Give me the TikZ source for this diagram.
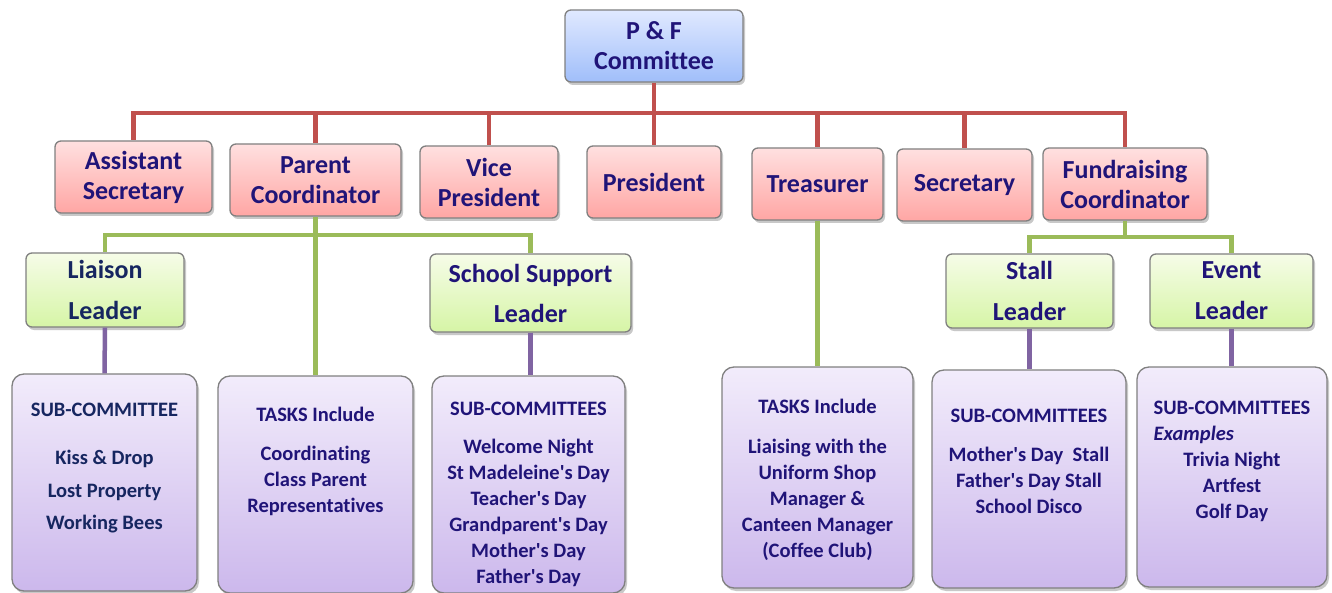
\documentclass[tikz,border=0pt]{standalone}
\usepackage{fontspec}
\usepackage{calc}
\setmainfont{Carlito}[Ligatures={NoCommon,TeXOff}]
\usetikzlibrary{positioning}
\usetikzlibrary{shadows}

\definecolor{navy}{RGB}{32,20,120}
\definecolor{slatenavy}{RGB}{22,38,96}
\definecolor{linered}{RGB}{192,80,77}
\definecolor{linegreen}{RGB}{155,187,89}
\definecolor{linepurple}{RGB}{128,100,162}
\definecolor{boxrim}{RGB}{128,128,128}

\tikzset{
  box/.style={draw=boxrim, line width=1.3pt, rounded corners=6pt, inner sep=0pt,
    align=center, text=navy, font=\fontsize{26}{30}\selectfont\bfseries,
    drop shadow={shadow xshift=2pt, shadow yshift=-3pt, opacity=0.3, fill=black!70}},
  bluebox/.style={box, top color={rgb,255:red,224;green,233;blue,255}, bottom color={rgb,255:red,160;green,190;blue,250}},
  redbox/.style={box, top color={rgb,255:red,255;green,224;blue,224}, bottom color={rgb,255:red,255;green,166;blue,164}},
  greenbox/.style={box, top color={rgb,255:red,246;green,252;blue,232}, bottom color={rgb,255:red,214;green,245;blue,166}},
  subbox/.style={box, rounded corners=12pt, top color={rgb,255:red,242;green,236;blue,251}, bottom color={rgb,255:red,204;green,184;blue,236}},
  subtext/.style={anchor=north, inner sep=0pt, align=center, text=navy, font=\fontsize{20.5}{26}\selectfont\bfseries},
  redline/.style={draw=linered, line width=4.5pt},
  greenline/.style={draw=linegreen, line width=4.5pt},
  purpleline/.style={draw=linepurple, line width=4.5pt}
}

\begin{document}
\begin{tikzpicture}[x=1pt, y=-1pt]
  \useasboundingbox [fill=white] (0, 0) rectangle (1332, 593);

  % committee and officers
  \node [bluebox, minimum width=178, minimum height=72] (pf) at (654, 46) {P \& F\\Committee};

  \node [redbox, minimum width=157, minimum height=72] (asec) at (133.5, 177) {Assistant\\Secretary};
  \node [redbox, minimum width=171, minimum height=72] (parc) at (315.5, 180) {Parent\\Coordinator};
  \node [redbox, minimum width=138, minimum height=72] (vpres) at (489, 182) {Vice\\President};
  \node [redbox, minimum width=134, minimum height=72] (pres) at (654, 182) {President};
  \node [redbox, minimum width=131, minimum height=72] (treas) at (817.5, 184) {Treasurer};
  \node [redbox, minimum width=135, minimum height=72] (secr) at (964.5, 185) {Secretary};
  \node [redbox, minimum width=164, minimum height=72] (fund) at (1125, 184) {Fundraising\\Coordinator};

  % leaders
  \node [greenbox, text=slatenavy, minimum width=158, minimum height=74] (liais) at (105, 290) {Liaison\\[11pt]Leader};
  \node [greenbox, minimum width=201, minimum height=78] (ssup) at (530.5, 293) {School Support\\[10pt]Leader};
  \node [greenbox, minimum width=167, minimum height=74] (stall) at (1029.5, 291) {Stall\\[11pt]Leader};
  \node [greenbox, minimum width=163, minimum height=74] (event) at (1231.5, 291) {Event\\[11pt]Leader};

  % sub-committees and tasks
  \node [subbox, minimum width=185, minimum height=217] (sub1) at (104.5, 482.5) {};
  \node [subbox, minimum width=195, minimum height=217] (task1) at (315.5, 484.5) {};
  \node [subbox, minimum width=193, minimum height=217] (sub2) at (528.5, 484.5) {};
  \node [subbox, minimum width=191, minimum height=221] (task2) at (817.5, 477.5) {};
  \node [subbox, minimum width=194, minimum height=218] (sub3) at (1029, 479) {};
  \node [subbox, minimum width=190, minimum height=220] (sub4) at (1232, 477) {};

  \node [subtext, text=slatenavy] (sub1txt) at (104.5, 402.5) {SUB-COMMITTEE\\[22pt]Kiss \& Drop\\[7pt]Lost Property\\[6pt]Working Bees};
  \node [subtext] (task1txt) at (315.5, 407) {TASKS Include\\[13pt]Coordinating\\Class Parent\\Representatives};
  \node [subtext] (sub2txt) at (528.5, 401.5) {SUB-COMMITTEES\\[12pt]Welcome Night\\St Madeleine's Day\\Teacher's Day\\Grandparent's Day\\Mother's Day\\Father's Day};
  \node [subtext] (task2txt) at (817.5, 399) {TASKS Include\\[14pt]Liaising with the\\Uniform Shop\\Manager \&\\Canteen Manager\\(Coffee Club)};
  \node [subtext] (sub3txt) at (1029, 408.5) {SUB-COMMITTEES\\[13pt]Mother's Day\ \ Stall\\Father's Day Stall\\School Disco};
  \node [subtext] (sub4txt) at (1232, 400.5) {SUB-COMMITTEES\\\makebox[\widthof{SUB-COMMITTEES}][l]{\itshape Examples}\\Trivia Night\\Artfest\\Golf Day};

  % red bus
  \coordinate (rbus) at (654, 113);
  \draw [redline] (pf.south) -- (pres.north);
  \foreach \n in {asec, parc, vpres, treas, secr, fund}
    \draw [redline] (rbus) -| (\n.north);

  % green buses
  \coordinate (pbus) at (315.5, 235);
  \draw [greenline] (parc.south) -- (task1.north);
  \draw [greenline] (pbus) -| (liais.north);
  \draw [greenline] (pbus) -| (ssup.north);
  \draw [greenline] (treas.south) -- (task2.north);
  \coordinate (fbus) at (1125, 237);
  \draw [greenline] (fund.south) -- (fbus);
  \draw [greenline] (fbus) -| (stall.north);
  \draw [greenline] (fbus) -| (event.north);

  % purple links
  \draw [purpleline] (liais.south) -- (sub1.north);
  \draw [purpleline] (ssup.south) -- (ssup.south |- sub2.north);
  \draw [purpleline] (stall.south) -- (stall.south |- sub3.north);
  \draw [purpleline] (event.south) -- (event.south |- sub4.north);
\end{tikzpicture}
\end{document}
